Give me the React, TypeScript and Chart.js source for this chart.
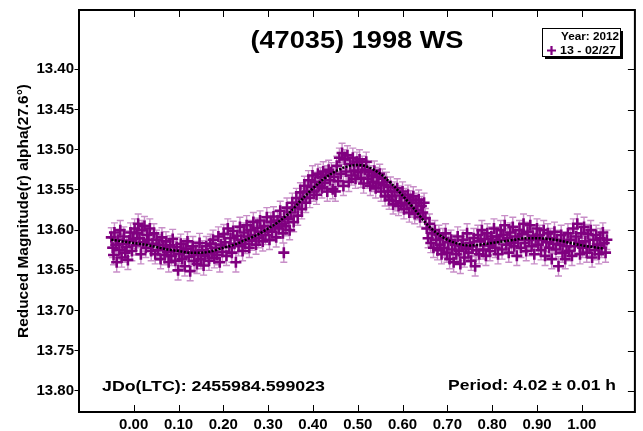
import React, { useEffect, useRef } from 'react';
import { Chart, registerables } from 'chart.js';

Chart.register(...registerables);

const TITLE = '(47035) 1998 WS';
const Y_TITLE = 'Reduced Magnitude(r) alpha(27.6°)';
const LEGEND_YEAR = 'Year: 2012';
const LEGEND_SESSION = '13 - 02/27';
const JD_TEXT = 'JDo(LTC): 2455984.599023';
const PERIOD_TEXT = 'Period: 4.02 ± 0.01 h';

const X_TICKS = [0.0, 0.1, 0.2, 0.3, 0.4, 0.5, 0.6, 0.7, 0.8, 0.9, 1.0];
const Y_TICKS = [13.4, 13.45, 13.5, 13.55, 13.6, 13.65, 13.7, 13.75, 13.8];

const PHASE = [
  -0.050, -0.047, -0.045, -0.043, -0.040, -0.038, -0.035, -0.032, -0.030, -0.027, -0.025, -0.022, -0.019, -0.016, -0.013, -0.010, -0.007, -0.004, -0.001,
  0.002, 0.005, 0.008, 0.010, 0.013, 0.016, 0.019, 0.021, 0.024, 0.027, 0.030, 0.033, 0.036, 0.039, 0.042, 0.045, 0.048,
  0.051, 0.054, 0.057, 0.060, 0.063, 0.066, 0.069, 0.072, 0.075, 0.078, 0.081, 0.084, 0.087, 0.090, 0.093, 0.096, 0.099,
  0.102, 0.105, 0.108, 0.111, 0.114, 0.117, 0.120, 0.123, 0.126, 0.129, 0.132, 0.135, 0.138, 0.141, 0.144, 0.147, 0.150,
  0.153, 0.156, 0.159, 0.162, 0.165, 0.168, 0.171, 0.174, 0.177, 0.180, 0.183, 0.186, 0.189, 0.192, 0.195, 0.198,
  0.201, 0.204, 0.207, 0.210, 0.213, 0.216, 0.219, 0.222, 0.225, 0.228, 0.231, 0.234, 0.237, 0.240, 0.243, 0.246, 0.249,
  0.252, 0.255, 0.258, 0.261, 0.264, 0.267, 0.270, 0.273, 0.276, 0.279, 0.282, 0.285, 0.288, 0.291, 0.294, 0.297, 0.300,
  0.303, 0.306, 0.309, 0.312, 0.315, 0.318, 0.321, 0.324, 0.327, 0.330, 0.333, 0.335, 0.336, 0.339, 0.342, 0.345, 0.348,
  0.351, 0.354, 0.357, 0.360, 0.363, 0.366, 0.369, 0.372, 0.375, 0.378, 0.381, 0.384, 0.387, 0.390, 0.393, 0.396, 0.399,
  0.402, 0.405, 0.408, 0.411, 0.414, 0.417, 0.420, 0.423, 0.426, 0.429, 0.432, 0.435, 0.438, 0.441, 0.444, 0.447, 0.450,
  0.453, 0.456, 0.459, 0.462, 0.465, 0.468, 0.471, 0.474, 0.477, 0.480, 0.483, 0.486, 0.489, 0.492, 0.495, 0.498,
  0.501, 0.504, 0.507, 0.510, 0.513, 0.516, 0.519, 0.522, 0.525, 0.528, 0.531, 0.534, 0.537, 0.540, 0.543, 0.546, 0.549,
  0.552, 0.555, 0.558, 0.561, 0.564, 0.567, 0.570, 0.573, 0.576, 0.579, 0.582, 0.585, 0.588, 0.591, 0.594, 0.597, 0.600,
  0.603, 0.606, 0.609, 0.612, 0.615, 0.618, 0.621, 0.624, 0.627, 0.630, 0.633, 0.636, 0.639, 0.642, 0.645, 0.648,
  0.651, 0.654, 0.657, 0.660, 0.663, 0.666, 0.669, 0.672, 0.675, 0.678, 0.681, 0.684, 0.687, 0.690, 0.693, 0.696, 0.699,
  0.702, 0.705, 0.708, 0.711, 0.714, 0.717, 0.720, 0.723, 0.726, 0.729, 0.732, 0.735, 0.738, 0.741, 0.744, 0.747, 0.750,
  0.753, 0.756, 0.759, 0.762, 0.765, 0.768, 0.771, 0.774, 0.777, 0.780, 0.783, 0.786, 0.789, 0.792, 0.795, 0.798,
  0.801, 0.804, 0.807, 0.810, 0.813, 0.816, 0.819, 0.822, 0.825, 0.828, 0.831, 0.834, 0.837, 0.840, 0.843, 0.846, 0.849,
  0.852, 0.855, 0.858, 0.861, 0.864, 0.867, 0.870, 0.873, 0.876, 0.879, 0.882, 0.885, 0.888, 0.891, 0.894, 0.897, 0.900,
  0.903, 0.906, 0.909, 0.912, 0.915, 0.918, 0.921, 0.924, 0.927, 0.930, 0.933, 0.936, 0.939, 0.942, 0.945, 0.948,
  0.951, 0.954, 0.957, 0.960, 0.963, 0.966, 0.969, 0.972, 0.975, 0.978, 0.981, 0.984, 0.987, 0.990, 0.993, 0.996, 0.999,
  1.002, 1.005, 1.008, 1.011, 1.014, 1.017, 1.020, 1.023, 1.026, 1.029, 1.032, 1.035, 1.038, 1.041, 1.044, 1.047, 1.050,
  1.053, 1.056,
];

const MAG = [
  13.609, 13.622, 13.631, 13.603, 13.618, 13.640, 13.612, 13.625, 13.600, 13.634, 13.617, 13.608, 13.628, 13.621, 13.637, 13.613, 13.603, 13.626, 13.611,
  13.598, 13.619, 13.604, 13.592, 13.610, 13.630, 13.600, 13.615, 13.595, 13.622, 13.606, 13.612, 13.598, 13.626, 13.617, 13.604, 13.630,
  13.612, 13.625, 13.618, 13.636, 13.609, 13.622, 13.631, 13.614, 13.627, 13.640, 13.619, 13.632, 13.611, 13.626, 13.638, 13.621, 13.650,
  13.630, 13.617, 13.636, 13.625, 13.645, 13.623, 13.614, 13.633, 13.651, 13.628, 13.620, 13.638, 13.626, 13.642, 13.630, 13.616, 13.636,
  13.625, 13.644, 13.632, 13.620, 13.629, 13.638, 13.617, 13.627, 13.612, 13.635, 13.622, 13.631, 13.608, 13.640, 13.618, 13.627,
  13.605, 13.615, 13.632, 13.598, 13.621, 13.610, 13.628, 13.601, 13.617, 13.640, 13.607, 13.620, 13.596, 13.612, 13.626, 13.603, 13.617,
  13.594, 13.608, 13.622, 13.600, 13.613, 13.590, 13.606, 13.618, 13.597, 13.610, 13.588, 13.602, 13.614, 13.595, 13.606, 13.584, 13.600,
  13.612, 13.590, 13.602, 13.583, 13.596, 13.609, 13.588, 13.598, 13.576, 13.592, 13.604, 13.628, 13.584, 13.595, 13.572, 13.586, 13.600,
  13.578, 13.566, 13.590, 13.572, 13.560, 13.582, 13.566, 13.553, 13.574, 13.560, 13.545, 13.566, 13.552, 13.538, 13.560, 13.546, 13.532,
  13.552, 13.540, 13.556, 13.530, 13.545, 13.534, 13.548, 13.527, 13.541, 13.532, 13.552, 13.525, 13.538, 13.528, 13.549, 13.534, 13.552,
  13.520, 13.539, 13.510, 13.530, 13.504, 13.545, 13.512, 13.527, 13.507, 13.540, 13.518, 13.532, 13.510, 13.526, 13.536, 13.515,
  13.528, 13.512, 13.535, 13.520, 13.542, 13.525, 13.515, 13.536, 13.528, 13.545, 13.532, 13.540, 13.526, 13.548, 13.534, 13.541, 13.530,
  13.552, 13.536, 13.544, 13.558, 13.540, 13.552, 13.562, 13.546, 13.558, 13.568, 13.552, 13.564, 13.548, 13.570, 13.557, 13.566, 13.552,
  13.574, 13.560, 13.568, 13.556, 13.578, 13.563, 13.572, 13.558, 13.580, 13.566, 13.575, 13.562, 13.584, 13.570, 13.578, 13.566,
  13.585, 13.598, 13.610, 13.592, 13.616, 13.604, 13.622, 13.600, 13.612, 13.625, 13.606, 13.618, 13.630, 13.610, 13.622, 13.604, 13.628,
  13.615, 13.636, 13.612, 13.624, 13.640, 13.618, 13.630, 13.608, 13.626, 13.642, 13.620, 13.612, 13.634, 13.623, 13.604, 13.628, 13.616,
  13.638, 13.620, 13.610, 13.645, 13.625, 13.606, 13.630, 13.614, 13.600, 13.624, 13.611, 13.632, 13.604, 13.619, 13.626, 13.608,
  13.615, 13.598, 13.622, 13.608, 13.630, 13.612, 13.600, 13.624, 13.606, 13.594, 13.618, 13.610, 13.628, 13.603, 13.616, 13.596, 13.620,
  13.608, 13.632, 13.612, 13.600, 13.622, 13.605, 13.592, 13.616, 13.626, 13.602, 13.612, 13.594, 13.620, 13.607, 13.630, 13.610, 13.598,
  13.618, 13.606, 13.625, 13.612, 13.600, 13.632, 13.615, 13.604, 13.622, 13.610, 13.636, 13.617, 13.602, 13.624, 13.612, 13.645,
  13.618, 13.606, 13.628, 13.614, 13.636, 13.620, 13.604, 13.626, 13.612, 13.632, 13.598, 13.620, 13.608, 13.592, 13.616, 13.630, 13.604,
  13.622, 13.596, 13.614, 13.628, 13.605, 13.620, 13.600, 13.634, 13.612, 13.625, 13.606, 13.618, 13.630, 13.610, 13.622, 13.603, 13.616,
  13.628, 13.612,
];

const MAG_ERR = 0.012;

const CURVE_PHASE = [
  -0.05, -0.025, 0.0, 0.025, 0.05, 0.075, 0.1, 0.125, 0.15, 0.175, 0.2, 0.225, 0.25, 0.275, 0.3, 0.325, 0.35, 0.375, 0.4, 0.425,
  0.45, 0.475, 0.5, 0.525, 0.55, 0.575, 0.6, 0.625, 0.65, 0.675, 0.7, 0.725, 0.75, 0.775, 0.8, 0.825, 0.85, 0.875, 0.9, 0.925,
  0.95, 0.975, 1.0, 1.025, 1.05,
];
const CURVE_MAG = [
  13.612, 13.614, 13.616, 13.618, 13.621, 13.624, 13.626, 13.628, 13.628, 13.626, 13.622, 13.618, 13.612, 13.606, 13.598, 13.589,
  13.577, 13.562, 13.548, 13.536, 13.527, 13.521, 13.519, 13.522, 13.530, 13.542, 13.557, 13.573, 13.590, 13.603, 13.612, 13.617,
  13.619, 13.618, 13.616, 13.614, 13.612, 13.610, 13.610, 13.611, 13.613, 13.616, 13.619, 13.621, 13.623,
];

const PURPLE = '#800080';
const FONT = 'Liberation Sans, Arial, sans-serif';

function stretchText(
  ctx: CanvasRenderingContext2D,
  text: string,
  x: number,
  y: number,
  size: number,
  width: number,
  align: 'left' | 'center' | 'right'
) {
  ctx.save();
  ctx.font = `bold ${size}px ${FONT}`;
  const w = ctx.measureText(text).width;
  const s = width / w;
  const left = align === 'center' ? x - width / 2 : align === 'right' ? x - width : x;
  ctx.translate(left, y);
  ctx.scale(s, 1);
  ctx.textAlign = 'left';
  ctx.textBaseline = 'alphabetic';
  ctx.fillStyle = '#000';
  ctx.fillText(text, 0, 0);
  ctx.restore();
}

const errorBarPlugin = {
  id: 'errorBars',
  beforeDatasetsDraw(chart: any) {
    const { ctx, scales } = chart;
    const xs = scales.x;
    const ys = scales.y;
    ctx.save();
    ctx.strokeStyle = 'rgba(155, 50, 155, 0.55)';
    ctx.lineWidth = 1.4;
    ctx.beginPath();
    for (let i = 0; i < PHASE.length; i++) {
      const px = xs.getPixelForValue(PHASE[i]);
      const p1 = ys.getPixelForValue(MAG[i] - MAG_ERR);
      const p2 = ys.getPixelForValue(MAG[i] + MAG_ERR);
      ctx.moveTo(px, p1);
      ctx.lineTo(px, p2);
      ctx.moveTo(px - 3.5, p1);
      ctx.lineTo(px + 3.5, p1);
      ctx.moveTo(px - 3.5, p2);
      ctx.lineTo(px + 3.5, p2);
    }
    ctx.stroke();
    ctx.restore();
  },
};

const framePlugin = {
  id: 'frameAndText',
  afterDraw(chart: any) {
    const { ctx, chartArea: a, scales } = chart;
    ctx.save();
    ctx.strokeStyle = '#000';
    ctx.lineWidth = 2;
    ctx.strokeRect(a.left, a.top, a.right - a.left, a.bottom - a.top);
    ctx.lineWidth = 1;
    ctx.beginPath();
    X_TICKS.forEach((v) => {
      const px = Math.round(scales.x.getPixelForValue(v)) + 0.5;
      ctx.moveTo(px, a.bottom);
      ctx.lineTo(px, a.bottom - 7);
      ctx.moveTo(px, a.top);
      ctx.lineTo(px, a.top + 7);
    });
    Y_TICKS.forEach((v) => {
      const py = Math.round(scales.y.getPixelForValue(v)) + 0.5;
      ctx.moveTo(a.right, py);
      ctx.lineTo(a.right - 7, py);
    });
    ctx.stroke();

    // title
    stretchText(ctx, TITLE, (a.left + a.right) / 2, 48, 23, 213, 'center');
    // annotations
    stretchText(ctx, JD_TEXT, 102, 391, 14, 223, 'left');
    stretchText(ctx, PERIOD_TEXT, 448, 390, 14.5, 168, 'left');

    // y axis title
    ctx.save();
    ctx.translate(28, 211);
    ctx.rotate(-Math.PI / 2);
    ctx.font = `bold 15.5px ${FONT}`;
    const tw = ctx.measureText(Y_TITLE).width;
    ctx.scale(254 / tw, 1);
    ctx.textAlign = 'center';
    ctx.textBaseline = 'alphabetic';
    ctx.fillStyle = '#000';
    ctx.fillText(Y_TITLE, 0, 0);
    ctx.restore();

    // legend box
    const bx = 542, by = 28, bw = 78, bh = 28;
    ctx.fillStyle = '#000';
    ctx.fillRect(bx + 3, by + 3, bw, bh);
    ctx.fillStyle = '#fff';
    ctx.fillRect(bx, by, bw, bh);
    ctx.strokeStyle = '#000';
    ctx.lineWidth = 1;
    ctx.strokeRect(bx + 0.5, by + 0.5, bw, bh);
    stretchText(ctx, LEGEND_YEAR, 619, 39.5, 10.5, 58, 'right');
    stretchText(ctx, LEGEND_SESSION, 560, 54, 10.5, 56, 'left');
    ctx.strokeStyle = PURPLE;
    ctx.lineWidth = 2.2;
    ctx.beginPath();
    ctx.moveTo(547, 50.5);
    ctx.lineTo(556, 50.5);
    ctx.moveTo(551.5, 46);
    ctx.lineTo(551.5, 55);
    ctx.stroke();
    ctx.restore();
  },
};

export default function App() {
  const ref = useRef<HTMLCanvasElement>(null);

  useEffect(() => {
    if (!ref.current) return;
    const chart = new Chart(ref.current, {
      type: 'scatter',
      data: {
        datasets: [
          {
            type: 'line',
            label: 'fit',
            data: CURVE_PHASE.map((x, i) => ({ x, y: CURVE_MAG[i] })),
            borderColor: '#000',
            borderWidth: 2.5,
            borderDash: [2, 1.5],
            pointRadius: 0,
            cubicInterpolationMode: 'monotone',
            fill: false,
            order: 0,
          } as any,
          {
            type: 'scatter',
            label: LEGEND_SESSION,
            data: PHASE.map((x, i) => ({ x, y: MAG[i] })),
            pointStyle: 'cross',
            pointRadius: 5.5,
            borderWidth: 2.6,
            borderColor: PURPLE,
            backgroundColor: PURPLE,
            order: 1,
          } as any,
        ],
      },
      options: {
        responsive: false,
        animation: false,
        events: [],
        layout: { padding: { left: 0, top: 10, right: 2, bottom: 0 } },
        plugins: { legend: { display: false }, tooltip: { enabled: false } },
        scales: {
          x: {
            type: 'linear',
            min: -0.1221,
            max: 1.1185,
            afterBuildTicks: (s: any) => {
              s.ticks = X_TICKS.map((v) => ({ value: v }));
            },
            afterFit: (s: any) => {
              s.height = 19;
            },
            grid: { display: false, drawTicks: false },
            border: { display: false },
            ticks: {
              padding: 4,
              color: '#000',
              font: { family: FONT, size: 15, weight: 'bold' },
              callback: (v: any) => Number(v).toFixed(2),
              maxRotation: 0,
              autoSkip: false,
            },
          },
          y: {
            type: 'linear',
            reverse: true,
            min: 13.3262,
            max: 13.8262,
            afterBuildTicks: (s: any) => {
              s.ticks = Y_TICKS.map((v) => ({ value: v }));
            },
            afterFit: (s: any) => {
              s.width = 79;
            },
            grid: {
              display: true,
              drawOnChartArea: false,
              drawTicks: true,
              tickLength: 4.5,
              color: '#000',
              lineWidth: 1,
            },
            border: { display: false },
            ticks: {
              padding: 0.5,
              color: '#000',
              font: { family: FONT, size: 15, weight: 'bold' },
              callback: (v: any) => Number(v).toFixed(2),
              autoSkip: false,
            },
          },
        },
      },
      plugins: [errorBarPlugin, framePlugin],
    } as any);
    return () => chart.destroy();
  }, []);

  return (
    <div style={{ position: 'fixed', left: 0, top: 0, width: 643, height: 431, background: '#fff' }}>
      <canvas ref={ref} width={643} height={431} />
    </div>
  );
}
